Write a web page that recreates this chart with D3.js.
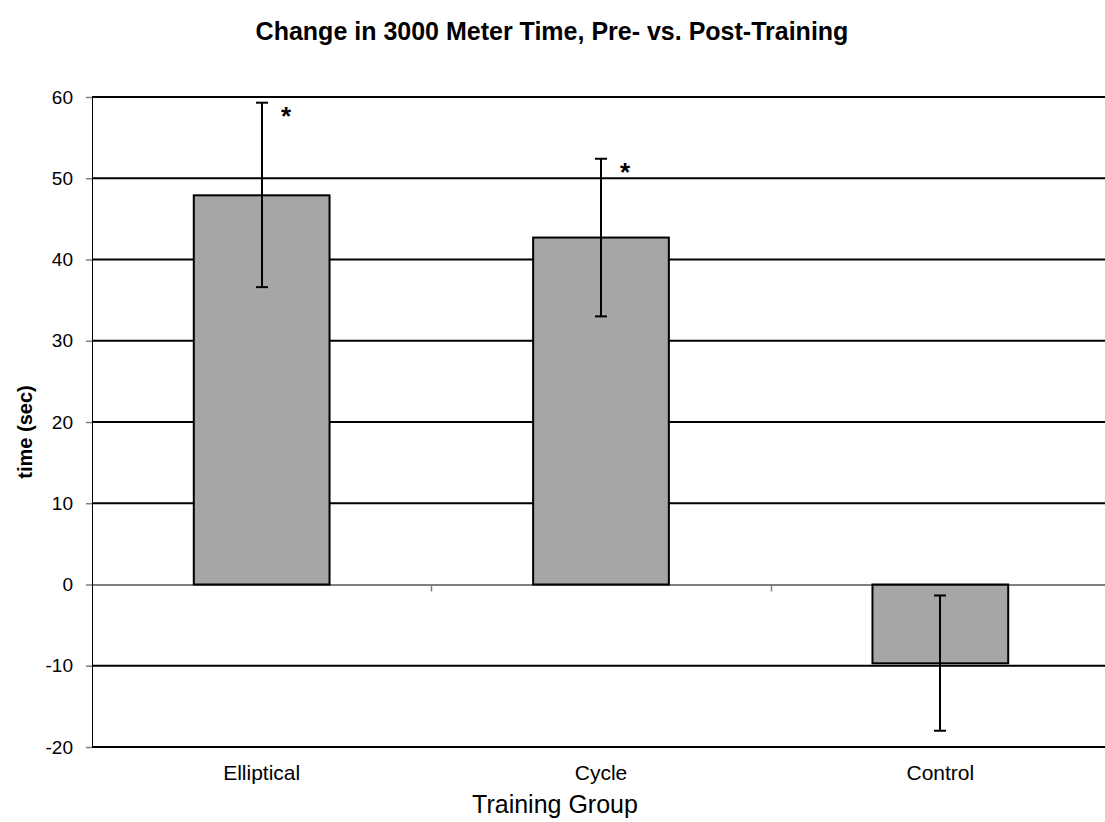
<!DOCTYPE html>
<html><head><meta charset="utf-8">
<script src="https://cdn.jsdelivr.net/npm/d3@7"></script>
<style>body{margin:0;background:#fff}svg{display:block}</style>
</head><body>
<script>
const categories = ["Elliptical", "Cycle", "Control"];
const values = [47.9, 42.7, -9.7];
const errLow = [36.6, 33.0, -18.0];
const errHigh = [59.3, 52.4, -1.35];
const significant = [true, true, false];
const yTicks = [-20, -10, 0, 10, 20, 30, 40, 50, 60];

(function () {
const W = 1105, H = 822;
const FONT = "'Liberation Sans', Arial, sans-serif";
const svg = d3.select("body").append("svg").attr("width", W).attr("height", H);
const pLeft = 92, pRight = 1110, pTop = 97, pBottom = 747;

const x = d3.scaleBand().domain(categories).range([pLeft, pRight]).paddingInner(0).paddingOuter(0);
const y = d3.scaleLinear().domain([-20, 60]).range([pBottom, pTop]);
const bw = x.bandwidth() * 0.4;

// gridlines
svg.append("g").selectAll("line").data(yTicks.filter(d => d !== 0)).join("line")
  .attr("x1", pLeft).attr("x2", pRight).attr("y1", d => y(d)).attr("y2", d => y(d))
  .attr("stroke", "#000").attr("stroke-width", 2);

// y axis
const yAxis = svg.append("g").attr("transform", `translate(${pLeft},0)`)
  .call(d3.axisLeft(y).tickValues(yTicks).tickFormat(d => String(d)).tickSize(6).tickPadding(13));
yAxis.select(".domain").attr("stroke", "#000").attr("stroke-width", 1).attr("d", `M0.5,${pTop}V${pBottom}`);
yAxis.selectAll(".tick line").attr("stroke", "#808080").attr("stroke-width", 1.5);
yAxis.selectAll(".tick text").attr("font-family", FONT).attr("font-size", 19).attr("fill", "#000");

// bars
svg.append("g").selectAll("rect").data(categories).join("rect")
  .attr("x", d => x(d) + (x.bandwidth() - bw) / 2)
  .attr("y", (d, i) => y(Math.max(0, values[i])))
  .attr("width", bw)
  .attr("height", (d, i) => Math.abs(y(values[i]) - y(0)))
  .attr("fill", "#a6a6a6").attr("stroke", "#000").attr("stroke-width", 2);

// zero line / x axis
const xAxis = svg.append("g").attr("transform", `translate(0,${y(0)})`);
xAxis.append("line").attr("x1", pLeft).attr("x2", pRight).attr("y1", 0.5).attr("y2", 0.5).attr("stroke", "#000").attr("stroke-width", 1);
xAxis.selectAll(".sep").data(categories.slice(1)).join("line").attr("class", "sep")
  .attr("x1", d => Math.round(x(d)) + 0.5).attr("x2", d => Math.round(x(d)) + 0.5)
  .attr("y1", 1).attr("y2", 7).attr("stroke", "#808080").attr("stroke-width", 1.5);

// x labels
svg.append("g").selectAll("text").data(categories).join("text")
  .attr("x", d => x(d) + x.bandwidth() / 2).attr("y", 780)
  .attr("text-anchor", "middle").attr("font-family", FONT).attr("font-size", 21)
  .text(d => d);

// error bars
const eg = svg.append("g").attr("stroke", "#000").attr("stroke-width", 2);
categories.forEach((c, i) => {
  const cx = Math.round(x(c) + x.bandwidth() / 2);
  eg.append("line").attr("x1", cx).attr("x2", cx).attr("y1", y(errHigh[i])).attr("y2", y(errLow[i]));
  [errHigh[i], errLow[i]].forEach(v => {
    eg.append("line").attr("x1", cx - 6).attr("x2", cx + 6).attr("y1", y(v)).attr("y2", y(v));
  });
  if (significant[i]) {
    svg.append("text").attr("x", cx + 24).attr("y", y(errHigh[i]) + 22)
      .attr("text-anchor", "middle").attr("font-family", FONT).attr("font-weight", "bold")
      .attr("font-size", 26).text("*");
  }
});

// titles
svg.append("text").attr("x", 552).attr("y", 40).attr("text-anchor", "middle")
  .attr("font-family", FONT).attr("font-weight", "bold").attr("font-size", 25)
  .text("Change in 3000 Meter Time, Pre- vs. Post-Training");
svg.append("text").attr("transform", `translate(32,${(pTop + pBottom) / 2 + 10}) rotate(-90)`).attr("text-anchor", "middle")
  .attr("font-family", FONT).attr("font-weight", "bold").attr("font-size", 20)
  .text("time (sec)");
svg.append("text").attr("x", 555).attr("y", 813).attr("text-anchor", "middle")
  .attr("font-family", FONT).attr("font-size", 25)
  .text("Training Group");
})();
</script>
</body></html>
